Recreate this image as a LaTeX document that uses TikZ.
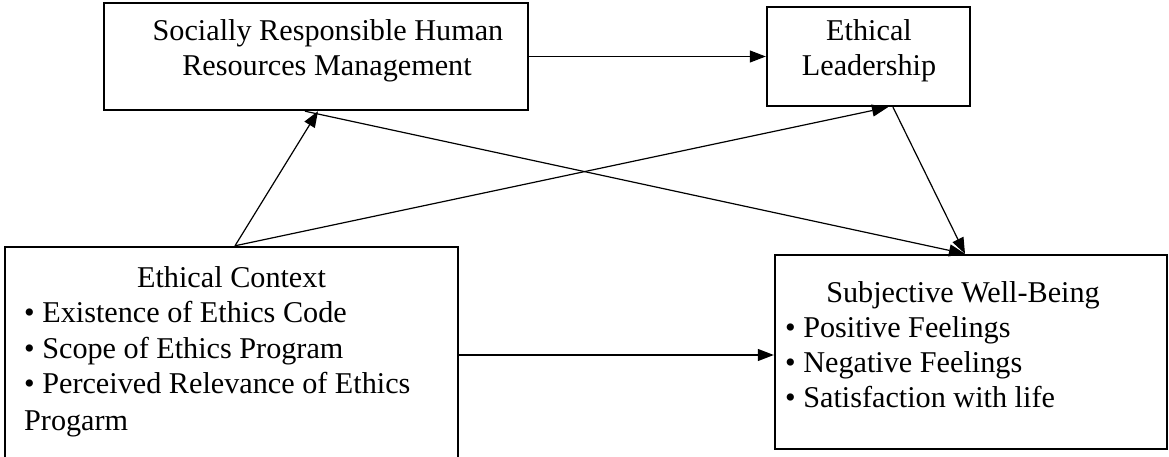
\documentclass[tikz,border=0pt]{standalone}
\usepackage{fontspec}
\setmainfont{Liberation Serif}
\usetikzlibrary{arrows.meta}
\begin{document}
\begin{tikzpicture}[x=1pt,y=-1pt,
  box/.style={draw, line width=2.4pt, rectangle, inner sep=0pt},
  txt/.style={inner sep=0pt, font=\fontsize{30.2}{35}\selectfont},
  arr/.style={line width=1.2pt, -{Triangle[length=16pt,width=12pt]}}]
\useasboundingbox (0,0) rectangle (1169,457);
% boxes
\node[box, minimum width=424pt, minimum height=107pt] (hrm) at (316,56.5) {};
\node[box, minimum width=203pt, minimum height=99pt] (el) at (868.5,56.5) {};
\node[box, minimum width=453pt, minimum height=223pt] (ec) at (231.5,358.5) {};
\node[box, minimum width=392pt, minimum height=194pt] (swb) at (971,352) {};
% texts
\node[txt, anchor=base] (hrm1) at (328,41) {Socially Responsible Human};
\node[txt, anchor=base] (hrm2) at (327,76) {Resources Management};
\node[txt, anchor=base] (el1) at (869,41) {Ethical};
\node[txt, anchor=base] (el2) at (869,76) {Leadership};
\node[txt, anchor=base] (ec0) at (231.5,287) {Ethical Context};
\node[txt, anchor=base west] (ec1) at (24,322) {• Existence of Ethics Code};
\node[txt, anchor=base west] (ec2) at (24,358) {• Scope of Ethics Program};
\node[txt, anchor=base west] (ec3) at (24,393) {• Perceived Relevance of Ethics};
\node[txt, anchor=base west] (ec4) at (24,430) {Progarm};
\node[txt, anchor=base] (swb0) at (963,302) {Subjective Well-Being};
\node[txt, anchor=base west] (swb1) at (785,337) {• Positive Feelings};
\node[txt, anchor=base west] (swb2) at (785,372) {• Negative Feelings};
\node[txt, anchor=base west] (swb3) at (785,407) {• Satisfaction with life};
% connection points
\coordinate (ecT) at ([xshift=3.5pt]ec.north);
\coordinate (hrmB1) at ([xshift=2pt]hrm.south);
\coordinate (hrmB2) at ([xshift=-11pt]hrm.south);
\coordinate (elB1) at ([xshift=19.5pt]el.south);
\coordinate (elB2) at ([xshift=24.5pt]el.south);
\coordinate (swbT) at ([xshift=-6pt]swb.north);
\coordinate (ecR) at ([yshift=3.5pt]ec.east);
% connectors
\draw[arr] (hrm.east) -- (hrm.east -| el.west);
\draw[arr] (ecT) -- (hrmB1);
\draw[arr] (ecT) -- (elB1);
\draw[arr] (hrmB2) -- (swbT);
\draw[arr] (elB2) -- (swbT);
\draw[arr] (ecR) -- (ecR -| swb.west);
\end{tikzpicture}
\end{document}
